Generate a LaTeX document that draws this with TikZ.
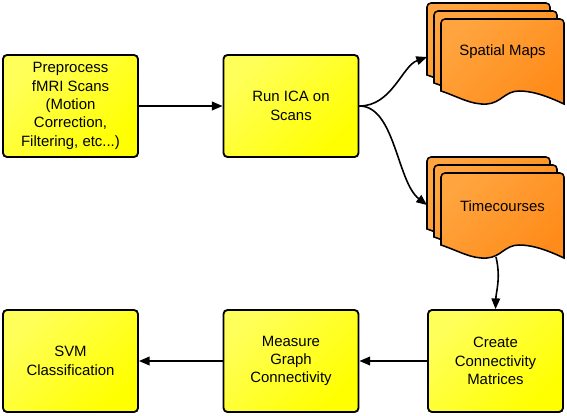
\documentclass[tikz,border=0pt]{standalone}
\usepackage{fontspec}
\setmainfont{Liberation Sans}
\usetikzlibrary{arrows.meta}
\definecolor{ylA}{HTML}{FFFF5A}
\definecolor{ylB}{HTML}{FFFF00}
\definecolor{orA}{HTML}{FFA43E}
\definecolor{orB}{HTML}{FF8C1A}
\tikzset{
 procbox/.style={draw=black, line width=1.4pt, rounded corners=3pt, minimum width=101.25pt, minimum height=76.5pt, align=center, font=\fontsize{11.2}{13.75}\selectfont, top color=ylA, bottom color=ylB, shading angle=45, inner sep=0pt},
 card/.style={draw=black, line width=1.15pt, top color=orA, bottom color=orB, shading angle=45},
 doclabel/.style={font=\fontsize{11.2}{13.75}\selectfont},
 arr/.style={line width=1.2pt, -{Triangle[length=8pt,width=6.5pt]}},
}
\newcommand\cardstack[2]{%
 \foreach \dx/\dy in {0/0,7/8,14/16}{
  \path[card] (#1+\dx,#2+\dy+72) -- (#1+\dx,#2+\dy+4) arc[start angle=180,end angle=90,radius=3pt]
   -- (#1+\dx+119,#2+\dy) arc[start angle=90,end angle=0,radius=3pt]
   -- (#1+\dx+123,#2+\dy+85)
   .. controls (#1+\dx+112,#2+\dy+80) and (#1+\dx+95,#2+\dy+72) .. (#1+\dx+78,#2+\dy+72)
   .. controls (#1+\dx+64,#2+\dy+72) and (#1+\dx+60,#2+\dy+84) .. (#1+\dx+46,#2+\dy+85)
   .. controls (#1+\dx+30,#2+\dy+86) and (#1+\dx+18,#2+\dy+78) .. (#1+\dx,#2+\dy+72) -- cycle;
 }%
}
\begin{document}
\begin{tikzpicture}[x=0.75pt,y=-0.75pt]
\useasboundingbox (0,0) rectangle (567,415);
\node[procbox] (pre) at (70.5,106) {Preprocess\\fMRI Scans\\(Motion\\Correction,\\Filtering, etc...)};
\node[procbox] (ica) at (291,106) {Run ICA on\\Scans};
\node[procbox] (cm) at (495.5,361) {Create\\Connectivity\\Matrices};
\node[procbox] (mg) at (291,361) {Measure\\Graph\\Connectivity};
\node[procbox] (svm) at (70.5,361) {SVM\\Classification};
\cardstack{427}{3}
\cardstack{427}{157}
\node[doclabel] (sm) at (502.5,52) {Spatial Maps};
\node[doclabel] (tc) at (502.5,206) {Timecourses};
\coordinate (smin) at (427,57);
\coordinate (tcin) at (427,205);
\coordinate (tcout) at (496,257);
\draw[arr] (pre.east) -- (ica.west);
\draw[arr] (ica.east) .. controls (392,106) and (402,66) .. (smin);
\draw[arr] (ica.east) .. controls (395,106) and (397,182) .. (tcin);
\draw[arr] (tcout) .. controls (501,278) and (496,292) .. (cm.north);
\draw[arr] (cm.west) -- (mg.east);
\draw[arr] (mg.west) -- (svm.east);
\end{tikzpicture}
\end{document}
